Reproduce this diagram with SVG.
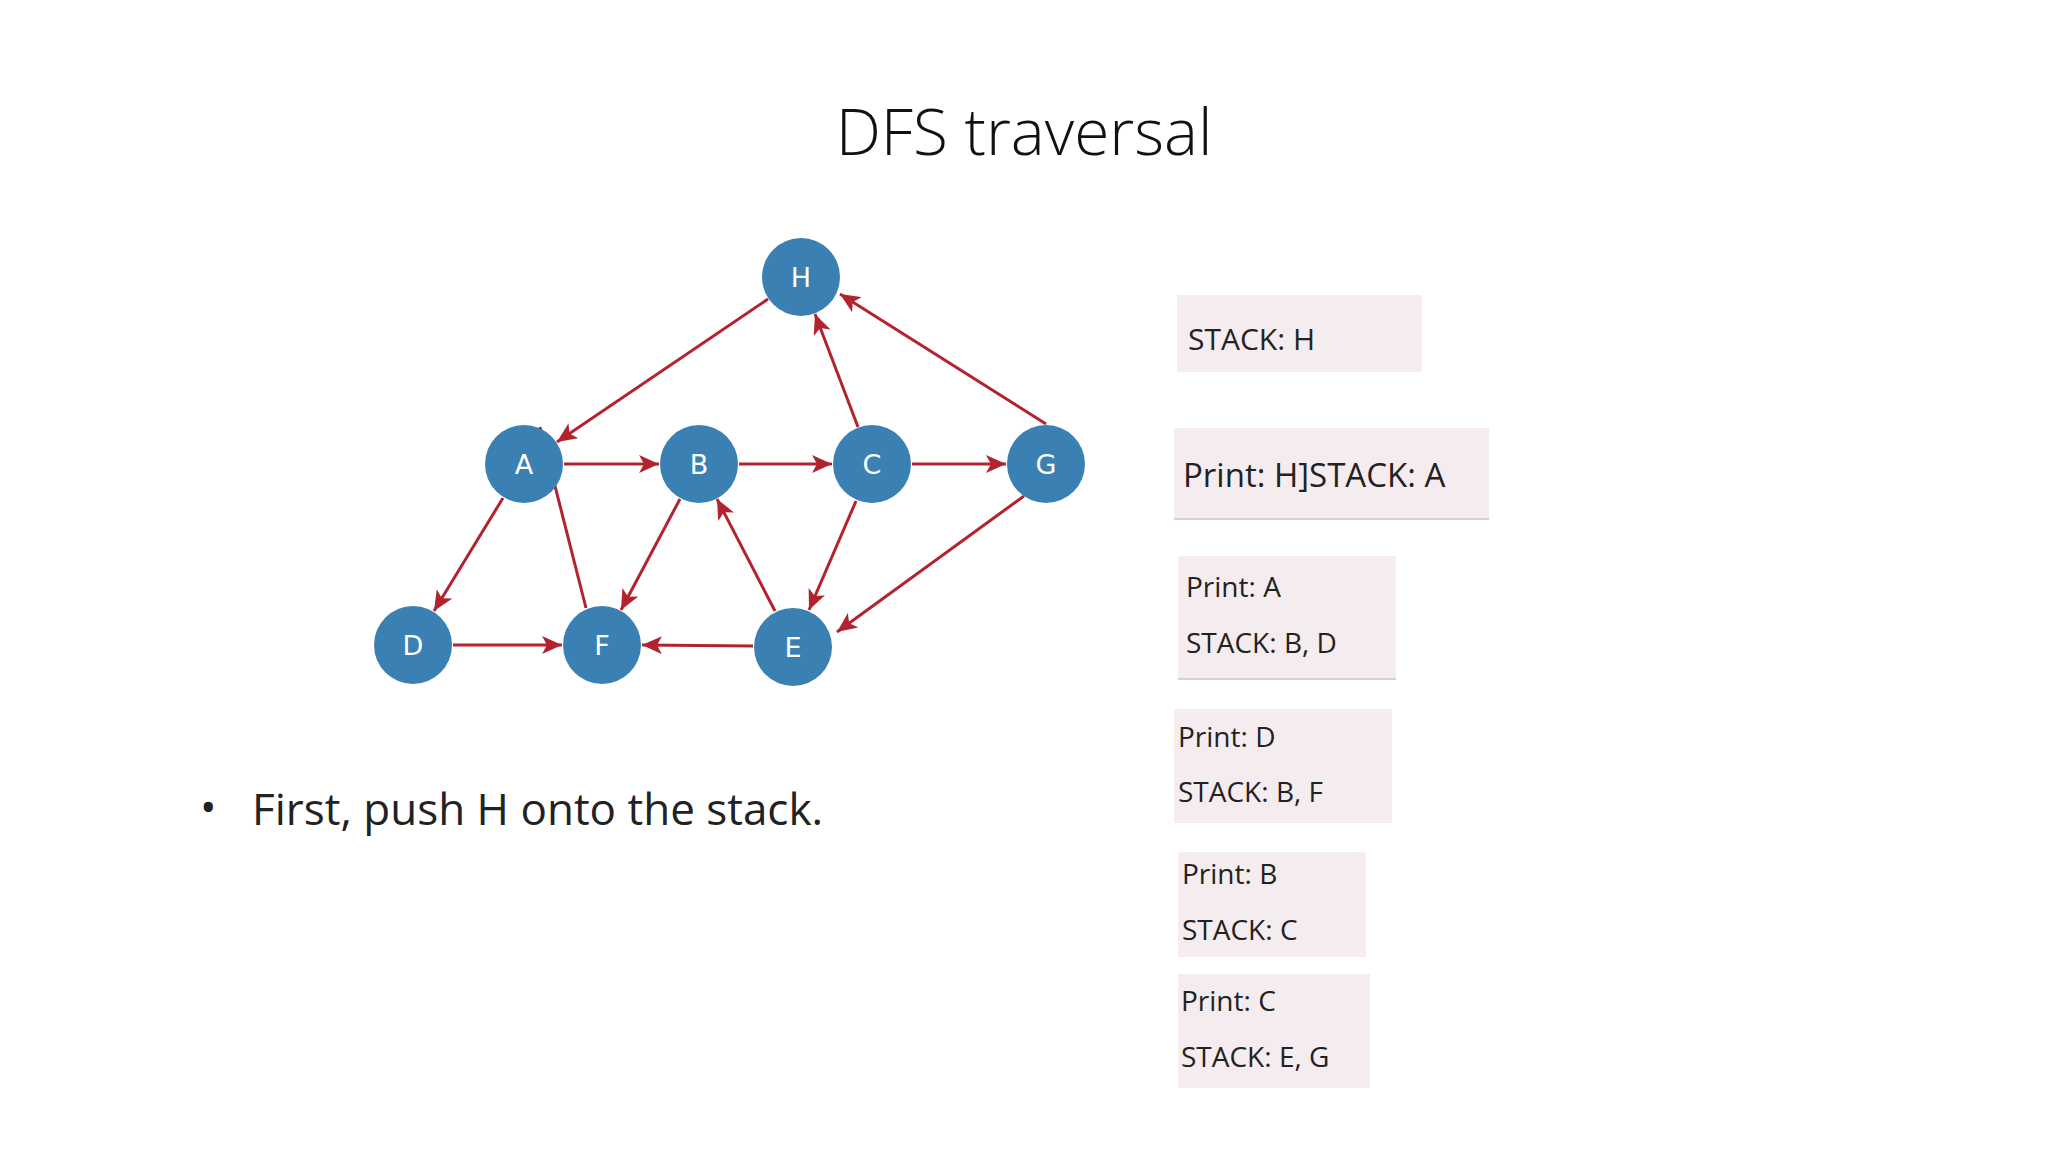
<svg xmlns="http://www.w3.org/2000/svg" width="2048" height="1152" viewBox="0 0 2048 1152">
<style>
.n circle{fill:#3a80b3}
.n text{fill:#fff;font-family:"DejaVu Sans",sans-serif;font-size:27px;text-anchor:middle}
.e line{stroke:#b3232f;stroke-width:3;marker-end:url(#ah)}
.box{fill:#f4ecee}
.t{font-family:"Open Sans","Liberation Sans",sans-serif;fill:#222}
</style>
<defs>
<marker id="ah" markerUnits="userSpaceOnUse" markerWidth="22" markerHeight="18" refX="20" refY="9" orient="auto">
<path d="M0,0 L20,9 L0,18 L5,9 Z" fill="#b3232f"/>
</marker>
</defs>
<rect width="2048" height="1152" fill="#fff"/>
<text x="1024" y="155" text-anchor="middle" font-family="Open Sans, Liberation Sans, sans-serif" font-weight="300" font-size="64" fill="#111">DFS traversal</text>
<g id="connectors" class="e">
<line x1="768" y1="299" x2="557" y2="442"/>
<line x1="564" y1="464" x2="659" y2="464"/>
<line x1="739" y1="464" x2="832" y2="464"/>
<line x1="912" y1="464" x2="1006" y2="464"/>
<line x1="858" y1="427" x2="815" y2="314"/>
<line x1="1046" y1="424" x2="840" y2="294"/>
<line x1="503" y1="498" x2="434" y2="611"/>
<line x1="586" y1="608" x2="540" y2="427"/>
<line x1="680" y1="499" x2="621" y2="610"/>
<line x1="775" y1="611" x2="717" y2="499"/>
<line x1="856" y1="501" x2="809" y2="610"/>
<line x1="1024" y1="496" x2="837" y2="632"/>
<line x1="453" y1="645" x2="562" y2="645"/>
<line x1="753" y1="646" x2="642" y2="645"/>
</g>
<g id="H" class="n"><circle cx="801" cy="277" r="39"/><text x="801" y="287">H</text></g>
<g id="A" class="n"><circle cx="524" cy="464" r="39"/><text x="524" y="474">A</text></g>
<g id="B" class="n"><circle cx="699" cy="464" r="39"/><text x="699" y="474">B</text></g>
<g id="C" class="n"><circle cx="872" cy="464" r="39"/><text x="872" y="474">C</text></g>
<g id="G" class="n"><circle cx="1046" cy="464" r="39"/><text x="1046" y="474">G</text></g>
<g id="D" class="n"><circle cx="413" cy="645" r="39"/><text x="413" y="655">D</text></g>
<g id="F" class="n"><circle cx="602" cy="645" r="39"/><text x="602" y="655">F</text></g>
<g id="E" class="n"><circle cx="793" cy="647" r="39"/><text x="793" y="657">E</text></g>
<text x="200" y="823" class="t" font-size="44" fill="#111">•</text>
<text x="252" y="825" class="t" font-size="44" fill="#111">First, push H onto the stack.</text>
<g id="box1"><rect class="box" x="1177" y="295" width="245" height="77"/><text class="t" x="1188" y="350" font-size="30">STACK: H</text></g>
<g id="box2"><rect class="box" x="1174" y="428" width="315" height="92"/><line x1="1174" y1="519" x2="1489" y2="519" stroke="#d6d0d0" stroke-width="2"/><text class="t" x="1183" y="487" font-size="33">Print: H]STACK: A</text></g>
<g id="box3"><rect class="box" x="1178" y="556" width="218" height="124"/><line x1="1178" y1="679" x2="1396" y2="679" stroke="#d6d0d0" stroke-width="2"/><text class="t" x="1186" y="597" font-size="28">Print: A</text><text class="t" x="1186" y="653" font-size="28">STACK: B, D</text></g>
<g id="box4"><rect class="box" x="1174" y="709" width="218" height="114"/><text class="t" x="1178" y="747" font-size="28">Print: D</text><text class="t" x="1178" y="802" font-size="28">STACK: B, F</text></g>
<g id="box5"><rect class="box" x="1178" y="852" width="188" height="105"/><text class="t" x="1182" y="884" font-size="28">Print: B</text><text class="t" x="1182" y="940" font-size="28">STACK: C</text></g>
<g id="box6"><rect class="box" x="1178" y="974" width="192" height="114"/><text class="t" x="1181" y="1011" font-size="28">Print: C</text><text class="t" x="1181" y="1067" font-size="28">STACK: E, G</text></g>
</svg>
